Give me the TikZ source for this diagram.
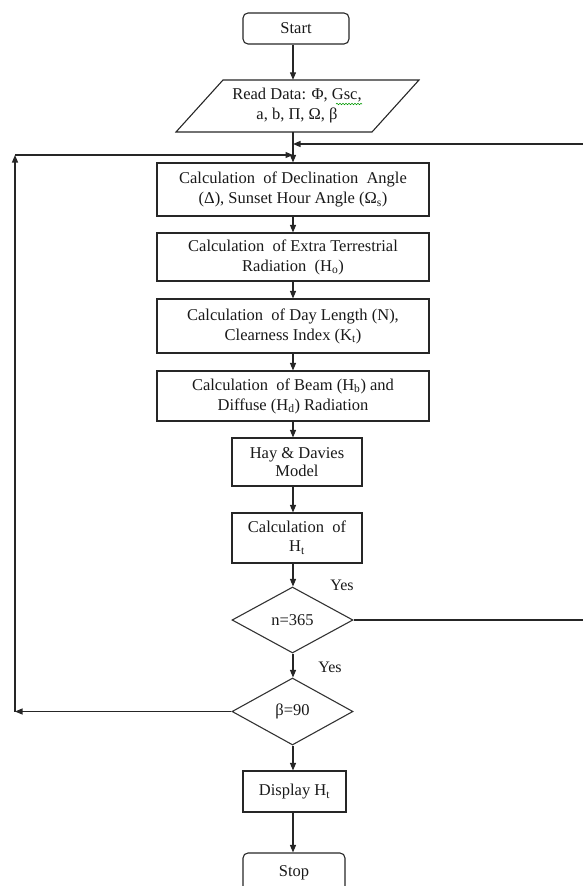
\documentclass[tikz,border=0pt]{standalone}
\usepackage{fontspec}
\setmainfont{Liberation Serif}
\usetikzlibrary{arrows.meta,shapes.geometric,decorations.pathmorphing}
\begin{document}
\begin{tikzpicture}[x=1pt,y=-1pt,
  every node/.style={font=\fontsize{16.5}{20}\selectfont, text=black!90},
  box/.style={draw=black!85, line width=1.1pt, rectangle, inner sep=0pt, align=center},
  term/.style={box, rounded corners=5pt},
  dec/.style={draw=black!80, line width=1.1pt, diamond, aspect=1.8, inner sep=0pt},
  conn/.style={draw=black!85, line width=1.1pt},
  arr/.style={conn, -{Triangle[length=7.5pt,width=6pt]}},
  lbl/.style={font=\fontsize{16}{18}\selectfont}]
\useasboundingbox (0,0) rectangle (582,886);
\coordinate (ax) at (293,0);
% nodes
\node[term, minimum width=106, minimum height=31] (start) at (296,28.5) {Start};
\draw[conn] (223,80) -- (419,80) -- (372,132) -- (176,132) -- cycle;
\node[align=center, minimum height=52, inner sep=0pt] (read) at (297,106) {Read Data: Φ, Gsc,\\a, b, Π, Ω, β};
\draw[green!60!black, line width=0.6pt, decorate, decoration={snake, amplitude=0.7pt, segment length=3pt}] (336,104) -- (362,104);
\node[box, minimum width=272, minimum height=53] (b1) at (293,189.5) {Calculation\ \ of Declination\ \ Angle\\(Δ), Sunset Hour Angle (Ω\textsubscript{s})};
\node[box, minimum width=272, minimum height=48] (b2) at (293,257) {Calculation\ \ of Extra Terrestrial\\Radiation\ \ (H\textsubscript{o})};
\node[box, minimum width=272, minimum height=54] (b3) at (293,326) {Calculation\ \ of Day Length (N),\\Clearness Index (K\textsubscript{t})};
\node[box, minimum width=272, minimum height=50] (b4) at (293,396) {Calculation\ \ of Beam (H\textsubscript{b}) and\\Diffuse (H\textsubscript{d}) Radiation};
\node[box, minimum width=130, minimum height=48, font=\fontsize{16.5}{18}\selectfont] (hay) at (297,462) {Hay \& Davies\\Model};
\node[box, minimum width=130, minimum height=50, font=\fontsize{16.5}{19}\selectfont] (ht) at (297,538) {Calculation\ \ of\\H\textsubscript{t}};
\node[dec, minimum width=121, minimum height=66] (n) at (292.5,620) {n=365};
\node[dec, minimum width=121, minimum height=67] (beta) at (292.5,711.5) {β=90};
\node[box, minimum width=103, minimum height=41] (disp) at (294.5,791.5) {Display H\textsubscript{t}};
\node[term, minimum width=102, minimum height=40] (stop) at (294,873) {Stop};
\node[lbl] (y1) at (342,585) {Yes};
\node[lbl] (y2) at (330,667) {Yes};
% loop coordinates
\coordinate (L1) at (15,711.5);
\coordinate (L2) at (15,155);
\coordinate (M1) at (293,155);
\coordinate (R1) at (588,620);
\coordinate (R2) at (588,144);
\coordinate (M2) at (293,144);
% connectors
\draw[arr] (start.south -| ax) -- (read.north -| ax);
\draw[arr] (read.south -| ax) -- (b1.north -| ax);
\draw[arr] (b1.south -| ax) -- (b2.north -| ax);
\draw[arr] (b2.south -| ax) -- (b3.north -| ax);
\draw[arr] (b3.south -| ax) -- (b4.north -| ax);
\draw[arr] (b4.south -| ax) -- (hay.north -| ax);
\draw[arr] (hay.south -| ax) -- (ht.north -| ax);
\draw[arr] (ht.south -| ax) -- (n.north -| ax);
\draw[arr] (n.south -| ax) -- (beta.north -| ax);
\draw[arr] (beta.south -| ax) -- (disp.north -| ax);
\draw[arr] (disp.south -| ax) -- (stop.north -| ax);
\draw[arr] (beta.west) -- (L1);
\draw[arr] (L1) -- (L2);
\draw[arr] (L2) -- (M1);
\draw[conn] (n.east) -- (R1) -- (R2);
\draw[arr] (R2) -- (M2);
\end{tikzpicture}
\end{document}
